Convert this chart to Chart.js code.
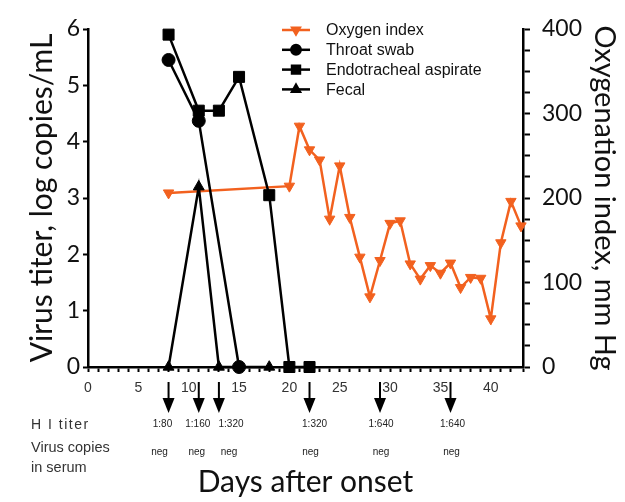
<!DOCTYPE html>
<html>
<head>
<meta charset="utf-8">
<script src="https://cdn.jsdelivr.net/npm/chart.js@4/dist/chart.umd.min.js"></script>
<style>
    html, body { margin: 0; padding: 0; background: #fff; }
    #wrap { width: 625px; height: 502px; }
</style>
</head>
<body>
<div id="wrap"><canvas id="myChart"></canvas></div>
<script>
// oxygenation index, mm Hg
const oxygenDays = [8, 20, 21, 22, 23, 24, 25, 26, 27, 28, 29, 30, 31, 32, 33, 34, 35, 36, 37, 38, 39, 40, 41, 42, 43];
const oxygenIndex = [206, 214, 285, 257, 245, 175, 238, 177, 130, 83, 126, 170, 173, 122, 104, 120, 111, 123, 94, 106, 105, 57, 147, 196, 167];

// virus titer, log copies/mL
const throatDays = [8, 11, 15];
const throatTiter = [5.45, 4.37, 0];
const aspirateDays = [8, 11, 13, 15, 18, 20, 22];
const aspirateTiter = [5.9, 4.55, 4.55, 5.15, 3.05, 0, 0];
const fecalDays = [8, 11, 13, 18];
const fecalTiter = [0, 3.2, 0, 0];

// serology below the axis
const hiDays = [8, 11, 13, 22, 29, 36];
const hiTiters = ['1:80', '1:160', '1:320', '1:320', '1:640', '1:640'];
const hiLabelDays = [7.4, 10.9, 14.2, 22.5, 29.1, 36.2];
const serumCopies = ['neg', 'neg', 'neg', 'neg', 'neg', 'neg'];
const serumLabelDays = [7.1, 10.8, 14.0, 22.1, 29.1, 36.1];

const ORANGE = '#F2611F';

const toPoints = (days, vals) => days.map((d, i) => ({ x: d, y: vals[i] }));

const lineSet = (label, days, vals, color, style, radius, rotation, axis, order) => ({
    label,
    data: toPoints(days, vals),
    yAxisID: axis,
    borderColor: color,
    backgroundColor: color,
    borderWidth: 2.5,
    pointStyle: style,
    pointRadius: radius,
    pointRotation: rotation,
    pointBorderWidth: 1,
    pointBorderColor: color,
    pointBackgroundColor: color,
    tension: 0,
    clip: false,
    order,
});

const notesPlugin = {
    id: 'notes',
    afterDraw: (chart) => {
        const { ctx, chartArea, scales } = chart;
        const x = scales.x;
        const base = chartArea.bottom;
        ctx.save();

        // arrows
        hiDays.forEach((d) => {
            const px = x.getPixelForValue(d);
            ctx.strokeStyle = '#000';
            ctx.fillStyle = '#000';
            ctx.lineWidth = 2;
            ctx.beginPath();
            ctx.moveTo(px, base + 15);
            ctx.lineTo(px, base + 33);
            ctx.stroke();
            ctx.beginPath();
            ctx.moveTo(px - 6, base + 31);
            ctx.lineTo(px + 6, base + 31);
            ctx.lineTo(px, base + 46);
            ctx.closePath();
            ctx.fill();
        });

        ctx.fillStyle = '#222';
        ctx.font = '10px Arial, "Liberation Sans"';
        ctx.textAlign = 'center';
        ctx.textBaseline = 'middle';
        hiTiters.forEach((t, i) => {
            ctx.fillText(t, x.getPixelForValue(hiLabelDays[i]), base + 57);
        });
        serumCopies.forEach((t, i) => {
            ctx.fillText(t, x.getPixelForValue(serumLabelDays[i]), base + 85);
        });

        ctx.fillStyle = '#333';
        ctx.textAlign = 'left';
        ctx.font = '14px Arial, "Liberation Sans"';
        ctx.letterSpacing = '1.5px';
        ctx.fillText('H I titer', 31, base + 58);
        ctx.letterSpacing = '0px';
        ctx.font = '14.5px Arial, "Liberation Sans"';
        ctx.fillText('Virus copies', 31, base + 81);
        ctx.fillText('in serum', 31, base + 101);

        // legend
        chart.data.datasets.forEach((ds, i) => {
            const y = 30 + i * 19.8;
            ctx.strokeStyle = ds.borderColor;
            ctx.lineWidth = 2.5;
            ctx.beginPath();
            ctx.moveTo(282, y);
            ctx.lineTo(310, y);
            ctx.stroke();
            ctx.fillStyle = ds.borderColor;
            Chart.helpers.drawPoint(ctx, {
                pointStyle: ds.pointStyle,
                radius: ds.pointRadius * 0.72,
                rotation: ds.pointRotation,
                borderWidth: 1,
            }, 296, y);
            ctx.fillStyle = '#111';
            ctx.font = '16px Arial, "Liberation Sans"';
            ctx.textAlign = 'left';
            ctx.fillText(ds.label, 326, y + 1);
        });
        ctx.restore();
    },
};

const tickFont = { family: 'Lato', size: 23 };
const titleFont = { family: 'Lato', size: 30 };

new Chart(document.getElementById('myChart'), {
    type: 'line',
    data: {
        datasets: [
            lineSet('Oxygen index', oxygenDays, oxygenIndex, ORANGE, 'triangle', 6, 180, 'y2', 4),
            lineSet('Throat swab', throatDays, throatTiter, '#000', 'circle', 6.5, 0, 'y', 1),
            lineSet('Endotracheal aspirate', aspirateDays, aspirateTiter, '#000', 'rect', 7.8, 0, 'y', 2),
            lineSet('Fecal', fecalDays, fecalTiter, '#000', 'triangle', 6.3, 0, 'y', 3),
        ],
    },
    options: {
        responsive: true,
        maintainAspectRatio: false,
        animation: false,
        layout: { padding: { top: 29, left: 0, right: 0, bottom: 0 } },
        plugins: { legend: { display: false }, tooltip: { enabled: false } },
        scales: {
            x: {
                type: 'linear',
                min: 0,
                max: 43.2,
                afterFit: (s) => { s.height = 135; },
                border: { color: '#000', width: 2.5 },
                grid: { drawOnChartArea: false, tickLength: 5, color: '#000', tickWidth: 2 },
                ticks: {
                    stepSize: 1,
                    autoSkip: false,
                    maxRotation: 0,
                    padding: 8,
                    color: '#333',
                    font: { family: 'Arial', size: 14 },
                    callback: (v) => (v % 5 === 0 ? v : ''),
                },
                title: {
                    display: true,
                    text: 'Days after onset',
                    color: '#111',
                    font: titleFont,
                    padding: { top: 0, bottom: 2 },
                },
            },
            y: {
                position: 'left',
                min: 0,
                max: 6,
                afterFit: (s) => { s.width = 88; },
                border: { color: '#000', width: 2.5 },
                grid: { drawOnChartArea: false, tickLength: 5, color: '#000', tickWidth: 2 },
                ticks: { stepSize: 1, padding: 3, color: '#111', font: tickFont },
                title: {
                    display: true,
                    text: 'Virus titer, log copies/mL',
                    color: '#111',
                    font: titleFont,
                    padding: { top: 24, bottom: 0 },
                },
            },
            y2: {
                position: 'right',
                min: 0,
                max: 400,
                afterFit: (s) => { s.width = 102; },
                border: { color: '#000', width: 2.5 },
                grid: { drawOnChartArea: false, tickLength: 7, color: '#000', tickWidth: 2 },
                ticks: {
                    stepSize: 25,
                    autoSkip: false,
                    padding: 12,
                    color: '#111',
                    font: tickFont,
                    callback: (v) => (v % 100 === 0 ? v : ''),
                },
                title: {
                    display: true,
                    text: 'Oxygenation index, mm Hg',
                    color: '#111',
                    font: { family: 'Lato', size: 29 },
                    padding: { top: 3, bottom: 0 },
                },
            },
        },
    },
    plugins: [notesPlugin],
});
</script>
</body>
</html>
